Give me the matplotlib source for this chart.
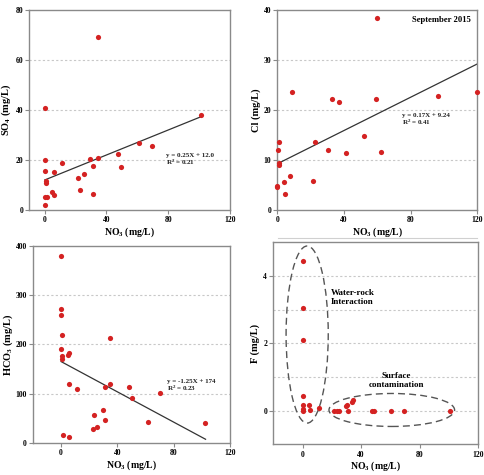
import matplotlib
matplotlib.use("Agg")
import matplotlib.pyplot as plt
from matplotlib.patches import Ellipse
from matplotlib.lines import Line2D

plt.rcParams['font.family'] = ['Liberation Serif', 'DejaVu Serif']
plt.rcParams['font.weight'] = 'bold'
plt.rcParams['mathtext.fontset'] = 'custom'
plt.rcParams['mathtext.rm'] = 'Liberation Serif:bold'
plt.rcParams['mathtext.it'] = 'Liberation Serif:bold'
plt.rcParams['mathtext.bf'] = 'Liberation Serif:bold'

# SO4 vs NO3
so4_x = [34.5, 0.4, 0.4, 0.4, 5.8, 11.1, 1.1, 0.9, 4.7, 5.8, 0.4, 1.5, 0.4,
         21.8, 22.8, 25.2, 29.2, 31.3, 31.1, 34.3, 47.3, 49.7, 61.0, 69.7, 101.3]
so4_y = [69.0, 40.7, 20.0, 15.7, 15.1, 18.7, 11.7, 10.9, 7.1, 6.0, 5.1, 5.3, 2.0,
         12.7, 8.0, 14.3, 20.5, 17.6, 6.4, 20.7, 22.3, 17.3, 26.9, 25.7, 37.9]
so4_fit_x = [0, 101.3]
so4_fit_y = [12.0, 37.3]

# Cl vs NO3
cl_x = [59.6, 9.0, 1.0, 0.4, 1.0, 1.0, 0.0, 0.0, 4.0, 7.6, 4.8, 21.2, 22.4,
        30.4, 32.8, 37.2, 41.0, 52.0, 59.0, 62.2, 96.6, 120.0]
cl_y = [38.3, 23.5, 13.5, 11.9, 9.3, 8.9, 4.8, 4.5, 5.5, 6.8, 3.2, 5.7, 13.6,
        11.9, 22.2, 21.5, 11.3, 14.7, 22.1, 11.5, 22.7, 23.5]
cl_fit_x = [0, 120]
cl_fit_y = [9.24, 29.2]

# HCO3 vs NO3
hco3_x = [0, 0, 0, 0.5, 0, 0.5, 0.5, 5.2, 5.5, 5.7, 11.4, 1.0, 5.7, 35.0, 34.8,
          31.5, 48.3, 50.2, 70.6, 61.6, 29.9, 23.2, 31.5, 22.5, 25.4, 102.6]
hco3_y = [380, 272, 260, 219, 191, 177, 170, 178, 182, 120, 110, 15.6, 11.5, 212,
          120, 113, 112.5, 90, 101, 42.7, 67, 55.6, 46, 27.8, 31.2, 40.7]
hco3_fit_x = [0, 102.7]
hco3_fit_y = [165, 7]

# F vs NO3
f_x = [0, 0, 0, 0, 0, 0, 0, 4.5, 5.0, 11.3, 21.4, 23.2, 24.7, 29.3, 30.5,
       31.0, 34.0, 34.4, 47.2, 48.8, 60.4, 69.0, 100.7]
f_y = [4.44, 3.06, 2.1, 0.44, 0.17, 0.05, 0.0, 0.17, 0.03, 0.09, 0.0, 0.0, 0.0,
       0.14, 0.18, 0.0, 0.25, 0.31, 0.0, 0.0, 0.0, 0.0, 0.0]

red = '#d42222'
grid_c = '#c8c8c8'
spine_c = '#8a8a8a'
xlab = 'NO$_\\mathrm{3}$ (mg/L)'

fig = plt.figure(figsize=(4.85, 4.75), dpi=100)


def style(ax, xlim, xticks, ylim, yticks, grid_vals, ylabel, ypad=2):
    ax.set_xlim(*xlim)
    ax.set_ylim(*ylim)
    ax.set_xticks(xticks)
    ax.set_yticks(yticks)
    for g in grid_vals:
        ax.axhline(g, color=grid_c, lw=0.8, ls=(0, (2, 2)), zorder=0)
    for s in ax.spines.values():
        s.set_color(spine_c)
        s.set_linewidth(1.0)
    ax.tick_params(direction='out', length=3, width=0.8, color=spine_c,
                   labelsize=5.5, pad=1.5)
    for lab in ax.get_xticklabels() + ax.get_yticklabels():
        lab.set_fontweight('bold')
    ax.set_xlabel(xlab, fontsize=7, fontweight='bold', labelpad=1)
    ax.set_ylabel(ylabel, fontsize=7.5, fontweight='bold', labelpad=ypad)


ax1 = fig.add_axes([0.0605, 0.558, 0.4135, 0.421])
style(ax1, (-10, 120), [0, 40, 80, 120], (0, 80), [0, 20, 40, 60, 80],
      [20, 40, 60], 'SO$_\\mathrm{4}$ (mg/L)')
ax1.plot(so4_fit_x, so4_fit_y, color='#333333', lw=0.9, zorder=2)
ax1.scatter(so4_x, so4_y, s=14, color=red, zorder=3, linewidths=0)
ax1.text(78.5, 20.1, 'y = 0.25X + 12.0\nR$^\\mathrm{2}$ = 0.21', fontsize=5,
         fontweight='bold', color='#222222', va='center', linespacing=1.0)

ax2 = fig.add_axes([0.572, 0.558, 0.412, 0.421])
style(ax2, (0, 120), [0, 40, 80, 120], (0, 40), [0, 10, 20, 30, 40],
      [10, 20, 30], 'Cl (mg/L)')
ax2.plot(cl_fit_x, cl_fit_y, color='#333333', lw=0.9, zorder=2)
ax2.scatter(cl_x, cl_y, s=14, color=red, zorder=3, linewidths=0, clip_on=False)
ax2.text(74.6, 18.0, 'y = 0.17X + 9.24\nR$^\\mathrm{2}$ = 0.41', fontsize=5,
         fontweight='bold', color='#222222', va='center', linespacing=1.0)
ax2.text(0.97, 0.95, 'September 2015', transform=ax2.transAxes, fontsize=6.2,
         fontweight='bold', ha='right', va='center')

ax3 = fig.add_axes([0.068, 0.068, 0.406, 0.414])
style(ax3, (-20, 120), [0, 40, 80, 120], (0, 400), [0, 100, 200, 300, 400],
      [100, 200, 300], 'HCO$_\\mathrm{3}$ (mg/L)', ypad=0.5)
ax3.plot(hco3_fit_x, hco3_fit_y, color='#333333', lw=0.9, zorder=2)
ax3.scatter(hco3_x, hco3_y, s=14, color=red, zorder=3, linewidths=0)
ax3.text(75.4, 115.6, 'y = -1.25X + 174\nR$^\\mathrm{2}$ = 0.23', fontsize=5,
         fontweight='bold', color='#222222', va='center', linespacing=1.0)

ax4 = fig.add_axes([0.5636, 0.0646, 0.4226, 0.4253])
style(ax4, (-20, 120), [0, 40, 80, 120], (-1, 5), [0, 2, 4],
      [0, 1, 2, 3, 4], 'F (mg/L)')
ax4.scatter(f_x, f_y, s=14, color=red, zorder=3, linewidths=0)
ax4.add_patch(Ellipse((3.1, 2.26), 28.8, 5.26, fill=False, ec='#555555',
                      lw=1.0, ls=(0, (5, 3)), zorder=2))
ax4.add_patch(Ellipse((60.9, 0.02), 85.8, 0.98, fill=False, ec='#555555',
                      lw=1.0, ls=(0, (5, 3)), zorder=2))
ax4.text(19, 3.6, 'Water-rock\nInteraction', fontsize=6.5, fontweight='bold',
         va='top', ha='left', linespacing=1.1)
ax4.text(64, 1.15, 'Surface\ncontamination', fontsize=6.5, fontweight='bold',
         va='top', ha='center', linespacing=1.1)

# faint rule under the upper-right panel
fig.add_artist(Line2D([0.573, 0.984], [0.499, 0.499], color='#d0d0d0', lw=0.8))

fig.savefig('out.png', dpi=100)
